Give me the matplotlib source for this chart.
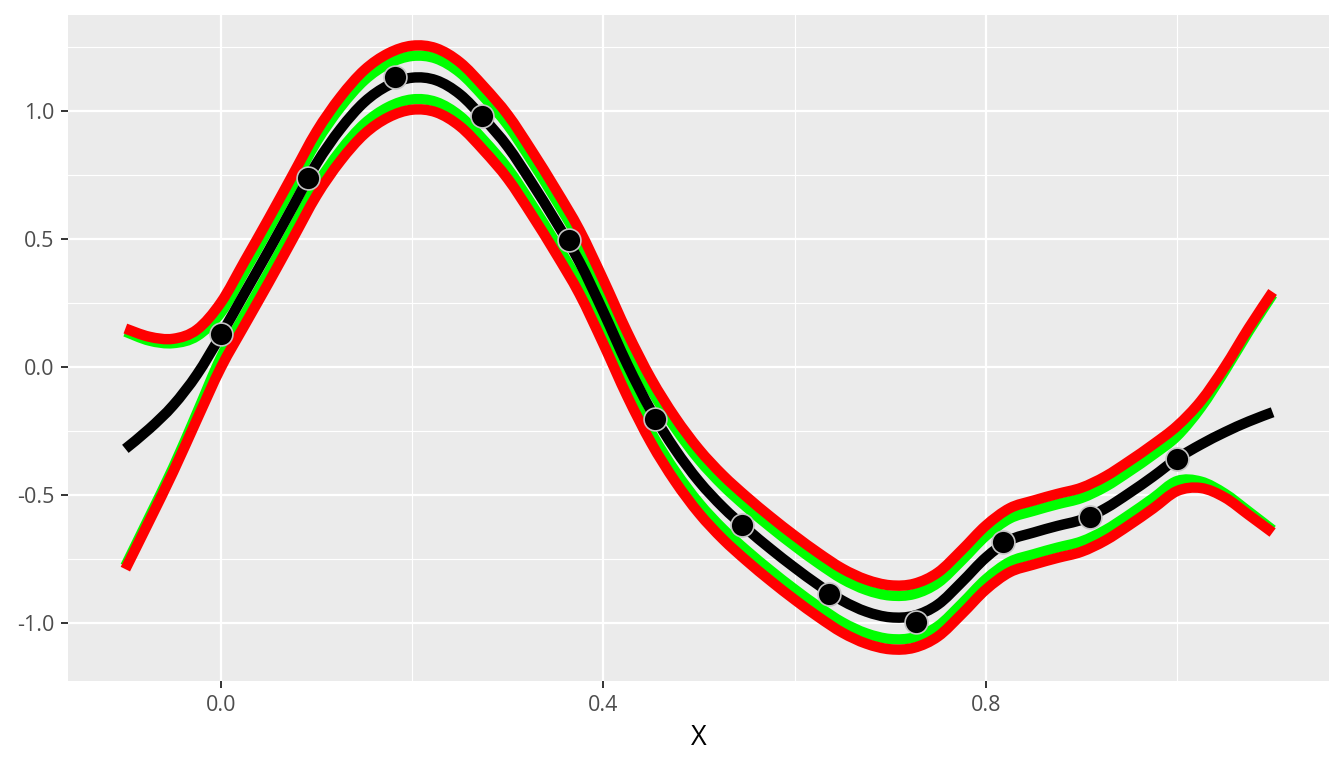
import matplotlib
matplotlib.use("Agg")
import matplotlib.pyplot as plt
from matplotlib.ticker import FixedLocator
from matplotlib.path import Path
from matplotlib.patches import PathPatch

plt.rcParams['font.family'] = ['Open Sans', 'DejaVu Sans']

# ---- data ----
point_x = [0.0, 0.0909, 0.1818, 0.2727, 0.3636, 0.4545,
           0.5455, 0.6364, 0.7273, 0.8182, 0.9091, 1.0]
point_y = [0.127, 0.740, 1.134, 0.980, 0.496, -0.204,
           -0.617, -0.888, -0.997, -0.682, -0.585, -0.358]

curve_x = [-0.1, -0.075, -0.05, -0.025, 0.0, 0.025, 0.05, 0.075, 0.1,
           0.125, 0.15, 0.175, 0.2, 0.225, 0.25, 0.275, 0.3, 0.325, 0.35,
           0.375, 0.4, 0.425, 0.45, 0.475, 0.5, 0.525, 0.55, 0.575, 0.6,
           0.625, 0.65, 0.675, 0.7, 0.725, 0.75, 0.775, 0.8, 0.825, 0.85,
           0.875, 0.9, 0.925, 0.95, 0.975, 1.0, 1.025, 1.05, 1.075, 1.1]

mean_y = [-0.320, -0.242, -0.150, -0.029, 0.125, 0.290, 0.455, 0.625, 0.795,
          0.930, 1.035, 1.100, 1.130, 1.120, 1.065, 0.970, 0.860, 0.720, 0.570,
          0.410, 0.215, 0.010, -0.172, -0.322, -0.447, -0.548, -0.633, -0.711, -0.784,
          -0.852, -0.913, -0.956, -0.978, -0.972, -0.928, -0.840, -0.745, -0.677, -0.647,
          -0.621, -0.597, -0.553, -0.493, -0.428, -0.358, -0.303, -0.255, -0.213, -0.177]

# half-widths of the outer (red) and inner (green) bands
red_hw = [0.470, 0.360, 0.260, 0.175, 0.127, 0.125, 0.125, 0.125, 0.125,
          0.125, 0.125, 0.125, 0.125, 0.125, 0.125, 0.125, 0.125, 0.125, 0.125,
          0.125, 0.125, 0.125, 0.125, 0.125, 0.125, 0.125, 0.125, 0.125, 0.125,
          0.125, 0.125, 0.125, 0.125, 0.125, 0.125, 0.125, 0.125, 0.125, 0.125,
          0.125, 0.125, 0.125, 0.125, 0.125, 0.127, 0.170, 0.255, 0.365, 0.470]
green_hw = [0.458, 0.345, 0.243, 0.150, 0.088, 0.085, 0.085, 0.085, 0.085,
            0.085, 0.085, 0.085, 0.085, 0.085, 0.085, 0.085, 0.085, 0.085, 0.085,
            0.085, 0.085, 0.085, 0.085, 0.085, 0.085, 0.085, 0.085, 0.085, 0.085,
            0.085, 0.085, 0.085, 0.085, 0.085, 0.085, 0.085, 0.085, 0.085, 0.085,
            0.085, 0.085, 0.085, 0.085, 0.085, 0.088, 0.145, 0.240, 0.352, 0.460]

x_major = [0.0, 0.4, 0.8]
x_major_labels = ["0.0", "0.4", "0.8"]
x_minor = [0.2, 0.6, 1.0]
y_major = [-1.0, -0.5, 0.0, 0.5, 1.0]
y_major_labels = ["-1.0", "-0.5", "0.0", "0.5", "1.0"]
y_minor = [-0.75, -0.25, 0.25, 0.75, 1.25]

green_up = [m + h for m, h in zip(mean_y, green_hw)]
green_lo = [m - h for m, h in zip(mean_y, green_hw)]
red_up = [m + h for m, h in zip(mean_y, red_hw)]
red_lo = [m - h for m, h in zip(mean_y, red_hw)]


def smooth_path(xs, ys):
    """Smooth path through the read knots (Catmull-Rom as cubic Bezier)."""
    n = len(xs)
    pts = list(zip(xs, ys))
    verts = [pts[0]]
    codes = [Path.MOVETO]
    for i in range(n - 1):
        p0 = pts[i - 1] if i > 0 else pts[i]
        p1 = pts[i]
        p2 = pts[i + 1]
        p3 = pts[i + 2] if i + 2 < n else pts[i + 1]
        c1 = (p1[0] + (p2[0] - p0[0]) / 6, p1[1] + (p2[1] - p0[1]) / 6)
        c2 = (p2[0] - (p3[0] - p1[0]) / 6, p2[1] - (p3[1] - p1[1]) / 6)
        verts += [c1, c2, p2]
        codes += [Path.CURVE4, Path.CURVE4, Path.CURVE4]
    return Path(verts, codes)


def draw_curve(ax, xs, ys, color, lw, z):
    patch = PathPatch(smooth_path(xs, ys), facecolor="none", edgecolor=color,
                      linewidth=lw, capstyle="butt", joinstyle="round", zorder=z)
    ax.add_patch(patch)


# ---- figure ----
W, H = 1344, 768
fig = plt.figure(figsize=(W / 100, H / 100), dpi=100)
fig.patch.set_facecolor("white")
L, R, T, B = 68, 1329, 15, 681
ax = fig.add_axes([L / W, 1 - B / H, (R - L) / W, (B - T) / H])
ax.set_facecolor("#EBEBEB")
for s in ax.spines.values():
    s.set_visible(False)

ax.set_xlim(-0.16, 1.159)
ax.set_ylim(-1.227, 1.375)

ax.xaxis.set_major_locator(FixedLocator(x_major))
ax.xaxis.set_minor_locator(FixedLocator(x_minor))
ax.yaxis.set_major_locator(FixedLocator(y_major))
ax.yaxis.set_minor_locator(FixedLocator(y_minor))
ax.set_xticklabels(x_major_labels)
ax.set_yticklabels(y_major_labels)

ax.grid(which="major", color="white", linewidth=1.6)
ax.grid(which="minor", color="white", linewidth=0.8)
ax.set_axisbelow(True)

ax.tick_params(which="major", length=5, width=1.4, color="#333333",
               labelcolor="#4D4D4D", labelsize=15.5, pad=5)
ax.tick_params(which="minor", length=0)

lw = 7.5
draw_curve(ax, curve_x, green_up, "#00FF00", lw, 2)
draw_curve(ax, curve_x, green_lo, "#00FF00", lw, 2)
draw_curve(ax, curve_x, red_up, "#FF0000", lw, 3)
draw_curve(ax, curve_x, red_lo, "#FF0000", lw, 3)
draw_curve(ax, curve_x, mean_y, "black", lw, 4)

ax.scatter(point_x, point_y, s=270, c="black", edgecolors="#C4C4C4",
           linewidths=1.2, zorder=5)

ax.set_xlabel("X", fontsize=19.5, color="black", labelpad=6)

fig.savefig("out.png", dpi=100, facecolor="white")
